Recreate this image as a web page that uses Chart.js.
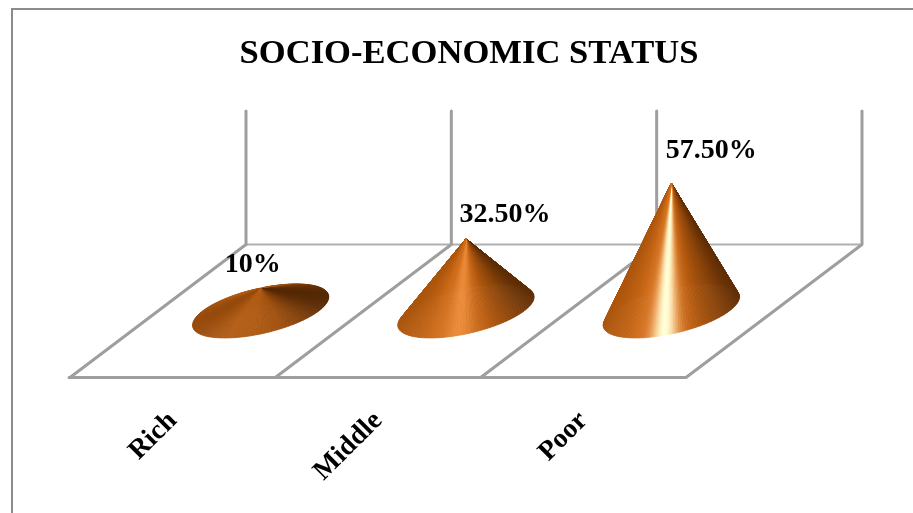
<!DOCTYPE html>
<html lang="en">

<head>
    <meta charset="UTF-8">
    <title>Socio-Economic Status</title>
    <script src="https://cdn.jsdelivr.net/npm/chart.js"></script>
    <style>
        body {
            margin: 0;
            overflow: hidden;
            background: #fff;
        }

        #frame {
            position: absolute;
            left: 11px;
            top: 8px;
            width: 950px;
            height: 600px;
            border: 2px solid #8c8c8c;
        }

        #chart {
            position: absolute;
            left: 0;
            top: 0;
        }
    </style>
</head>

<body>
    <div id="frame"></div>
    <canvas id="chart" width="913" height="513"></canvas>

    <script>
        const categories = ['Rich', 'Middle', 'Poor'];
        const values = [10, 32.5, 57.5];
        const valueLabels = ['10%', '32.50%', '57.50%'];

        const SERIF = '"Liberation Serif", "Times New Roman", serif';

        // oblique floor: half depth of the 3D box, in pixels
        const DEPTH_X = 88;
        const DEPTH_Y = 66.5;
        // how much of the depth the cone base takes
        const BASE_DEPTH = 0.406;
        // data label shift from the cone tip (placed by hand in the original)
        const labelShiftX = [-8, 39, 40];
        const labelShiftY = [-24, -24, -32];

        function mix(a, b, t) {
            return a.map((v, i) => v + (b[i] - v) * t);
        }

        // metal shading across the cone, t runs -1 (left) to 1 (right)
        function coneColor(t, shine) {
            const stops = [
                [-1, [172, 86, 14]],
                [-0.5, [204, 106, 24]],
                [0.3, [184, 92, 16]],
                [0.7, [138, 68, 10]],
                [1, [96, 46, 6]]
            ];
            let c = stops[stops.length - 1][1];
            for (let i = 0; i < stops.length - 1; i++) {
                if (t <= stops[i + 1][0]) {
                    c = mix(stops[i][1], stops[i + 1][1], (t - stops[i][0]) / (stops[i + 1][0] - stops[i][0]));
                    break;
                }
            }
            // short cones come out duller
            c = c.map(v => v * (0.86 + 0.14 * Math.min(1, shine * 3)));
            const d = t + 0.12;
            c = mix(c, [245, 145, 62], Math.min(1, shine * 2.4) * Math.exp(-d * d / 0.07));
            c = mix(c, [255, 255, 215], Math.min(1, Math.max(0, shine - 0.3) * 1.5) * Math.exp(-d * d / 0.03));
            return 'rgb(' + c.map(Math.round).join(',') + ')';
        }

        function drawCone(ctx, bar, tallest) {
            const a = bar.width / 2;
            const h = bar.base - bar.y;
            const shine = Math.pow(h / tallest, 2);
            const halfW = Math.hypot(a, BASE_DEPTH * DEPTH_X);
            const steps = [];
            for (let i = 0; i < 240; i++) steps.push(i * Math.PI * 2 / 240);
            // back of the cone first
            steps.sort((p, q) => Math.sin(q) - Math.sin(p));
            const point = th => [
                bar.x + a * Math.cos(th) + BASE_DEPTH * DEPTH_X * Math.sin(th),
                bar.base - BASE_DEPTH * DEPTH_Y * Math.sin(th)
            ];
            steps.forEach(th => {
                const p1 = point(th);
                const p2 = point(th + Math.PI * 2 / 240);
                const col = coneColor((p1[0] - bar.x) / halfW, shine);
                ctx.fillStyle = col;
                ctx.strokeStyle = col;
                ctx.lineWidth = 0.7;
                ctx.beginPath();
                ctx.moveTo(bar.x, bar.y);
                ctx.lineTo(p1[0], p1[1]);
                ctx.lineTo(p2[0], p2[1]);
                ctx.closePath();
                ctx.fill();
                ctx.stroke();
            });
        }

        const box3d = {
            id: 'box3d',
            afterLayout(chart) {
                // title sits a little right of the plot centre
                chart.titleBlock.left += 3;
                chart.titleBlock.right += 3;
            },
            beforeDatasetsDraw(chart) {
                const { ctx, chartArea, scales } = chart;
                const zero = scales.y.getPixelForValue(0);
                const top = scales.y.getPixelForValue(scales.y.max);
                const step = chartArea.width / categories.length;
                const front = zero + DEPTH_Y;
                const back = zero - DEPTH_Y;
                ctx.save();
                ctx.lineCap = 'round';
                ctx.strokeStyle = '#afafaf';
                ctx.lineWidth = 2;
                ctx.beginPath();
                ctx.moveTo(chartArea.left + DEPTH_X, back);
                ctx.lineTo(chartArea.right + DEPTH_X, back);
                ctx.stroke();
                ctx.strokeStyle = '#9e9e9e';
                ctx.lineWidth = 3;
                ctx.beginPath();
                ctx.moveTo(chartArea.left - DEPTH_X - 1, front);
                ctx.lineTo(chartArea.right - DEPTH_X, front);
                for (let i = 0; i <= categories.length; i++) {
                    const x = chartArea.left + i * step;
                    ctx.moveTo(x - DEPTH_X, front);
                    ctx.lineTo(x + DEPTH_X, back);
                    ctx.moveTo(x + DEPTH_X, back);
                    ctx.lineTo(x + DEPTH_X, top - DEPTH_Y);
                }
                ctx.stroke();
                ctx.restore();
            },
            afterDatasetsDraw(chart) {
                const { ctx } = chart;
                const bars = chart.getDatasetMeta(0).data;
                const tallest = Math.max(...bars.map(b => b.base - b.y));
                ctx.save();
                bars.forEach(b => drawCone(ctx, b, tallest));
                ctx.fillStyle = '#000';
                ctx.font = 'bold 28px ' + SERIF;
                ctx.textAlign = 'center';
                ctx.textBaseline = 'middle';
                bars.forEach((b, i) => {
                    ctx.fillText(valueLabels[i], b.x + labelShiftX[i], b.y + labelShiftY[i]);
                });
                ctx.restore();
            }
        };

        new Chart(document.getElementById('chart').getContext('2d'), {
            type: 'bar',
            data: {
                labels: categories,
                datasets: [{
                    data: values,
                    backgroundColor: 'transparent',
                    categoryPercentage: 1,
                    barPercentage: 0.565
                }]
            },
            options: {
                responsive: false,
                animation: false,
                layout: {
                    padding: { left: 158, right: 139, top: 0, bottom: 0 }
                },
                plugins: {
                    legend: { display: false },
                    tooltip: { enabled: false },
                    title: {
                        display: true,
                        text: 'SOCIO-ECONOMIC STATUS',
                        color: '#000',
                        font: { family: SERIF, size: 34.6, weight: 'bold', lineHeight: 1.2 },
                        padding: { top: 33.5, bottom: 102.6 }
                    }
                },
                scales: {
                    x: {
                        grid: { display: false },
                        border: { display: false },
                        afterFit(scale) {
                            scale.height = 202;
                        },
                        ticks: {
                            color: '#000',
                            font: { family: SERIF, size: 27.5, weight: 'bold' },
                            maxRotation: 45,
                            minRotation: 45,
                            padding: 86,
                            labelOffset: -88,
                            autoSkip: false
                        }
                    },
                    y: {
                        display: false,
                        min: 0,
                        max: 60
                    }
                }
            },
            plugins: [box3d]
        });
    </script>
</body>

</html>
